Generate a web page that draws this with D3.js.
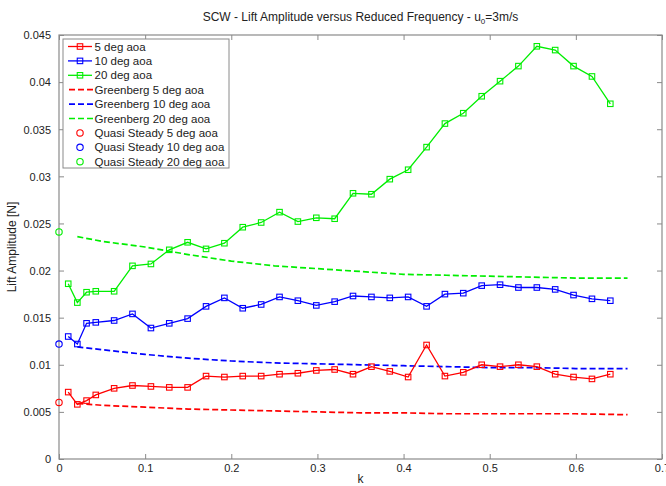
<!DOCTYPE html>
<html>
<head>
<meta charset="utf-8">
<script src="https://cdn.jsdelivr.net/npm/d3@7"></script>
<style>
  html, body { margin: 0; padding: 0; background: #fff; }
  svg { display: block; font-family: "Liberation Sans", Arial, Helvetica, sans-serif; }
</style>
</head>
<body>
<svg id="chart" width="666" height="486"></svg>
<script>
// Reduced frequency of each measured run
const kValues = [0.0107, 0.0213, 0.032, 0.0427, 0.064, 0.0853, 0.1067, 0.128, 0.1493, 0.1707,
  0.192, 0.2133, 0.2347, 0.256, 0.2773, 0.2987, 0.32, 0.3413, 0.3627, 0.384,
  0.4053, 0.4267, 0.448, 0.4693, 0.4907, 0.512, 0.5333, 0.5547, 0.576, 0.5973,
  0.6187, 0.64];

// Measured lift amplitude [N]
const lift5 = [0.0071, 0.0058, 0.0062, 0.0068, 0.0075, 0.0078, 0.0077, 0.0076, 0.0076, 0.0088,
  0.0087, 0.0088, 0.0088, 0.0090, 0.0091, 0.0094, 0.0095, 0.0090, 0.0098, 0.0093,
  0.0087, 0.0121, 0.0088, 0.0092, 0.0100, 0.0098, 0.0100, 0.0098, 0.0090, 0.0087,
  0.0085, 0.0090];
const lift10 = [0.0130, 0.0122, 0.0144, 0.0145, 0.0147, 0.0154, 0.0139, 0.0144, 0.0149, 0.0162,
  0.0171, 0.0160, 0.0164, 0.0172, 0.0168, 0.0163, 0.0167, 0.0173, 0.0172, 0.0171,
  0.0172, 0.0162, 0.0175, 0.0176, 0.0184, 0.0185, 0.0182, 0.0182, 0.0180, 0.0174,
  0.0170, 0.0168];
const lift20 = [0.0186, 0.0166, 0.0177, 0.0178, 0.0178, 0.0205, 0.0207, 0.0222, 0.0230, 0.0223,
  0.0229, 0.0246, 0.0251, 0.0262, 0.0252, 0.0256, 0.0255, 0.0282, 0.0281, 0.0297,
  0.0307, 0.0331, 0.0356, 0.0367, 0.0385, 0.0401, 0.0417, 0.0438, 0.0434, 0.0417,
  0.0406, 0.0377];

// Greenberg theory curves
const kTheory = [0.0213, 0.05, 0.1, 0.15, 0.2, 0.25, 0.3, 0.35, 0.4, 0.45, 0.5, 0.55, 0.6, 0.66];
const greenberg5 = [0.0059, 0.0057, 0.0055, 0.0053, 0.0052, 0.0051, 0.0050, 0.0049, 0.0049, 0.0048, 0.0048, 0.0048, 0.0048, 0.0047];
const greenberg10 = [0.0119, 0.0116, 0.0111, 0.0107, 0.0104, 0.0102, 0.0101, 0.0100, 0.0099, 0.0098, 0.0097, 0.0097, 0.0096, 0.0096];
const greenberg20 = [0.0236, 0.0231, 0.0225, 0.0217, 0.0210, 0.0205, 0.0202, 0.0199, 0.0196, 0.0195, 0.0194, 0.0193, 0.0192, 0.0192];

// Quasi-steady lift at k = 0
const quasiK = 0;
const quasi5 = 0.0060;
const quasi10 = 0.0122;
const quasi20 = 0.0241;

const xTicks = [0, 0.1, 0.2, 0.3, 0.4, 0.5, 0.6, 0.7];
const yTicks = [0, 0.005, 0.01, 0.015, 0.02, 0.025, 0.03, 0.035, 0.04, 0.045];

const colors = { red: "#ff0000", blue: "#0000ff", green: "#00ee00" };

const svg = d3.select("#chart");
const plotLeft = 59, plotRight = 662, plotTop = 35, plotBottom = 459;

const x = d3.scaleLinear().domain([0, 0.7]).range([plotLeft, plotRight]);
const y = d3.scaleLinear().domain([0, 0.045]).range([plotBottom, plotTop]);

// Title
const title = svg.append("text")
  .attr("x", (plotLeft + plotRight) / 2).attr("y", 21)
  .attr("text-anchor", "middle")
  .attr("font-size", 12).attr("fill", "#222");
title.append("tspan").text("SCW - Lift Amplitude versus Reduced Frequency - u");
title.append("tspan").attr("font-size", 8).attr("dy", 3).text("0");
title.append("tspan").attr("dy", -3).text("=3m/s");

// Axis frame
const axisColor = "#8a8a8a";
svg.append("rect")
  .attr("x", plotLeft).attr("y", plotTop)
  .attr("width", plotRight - plotLeft).attr("height", plotBottom - plotTop)
  .attr("fill", "none").attr("stroke", axisColor).attr("stroke-width", 1.2);

const fmt = d => (d === 0 ? "0" : d3.format("~g")(d));

// Bottom axis with inner ticks
const gx = svg.append("g").attr("transform", `translate(0,${plotBottom})`)
  .call(d3.axisBottom(x).tickValues(xTicks).tickSizeInner(-5).tickSizeOuter(0).tickPadding(9).tickFormat(fmt));
// Top mirror ticks
const gxt = svg.append("g").attr("transform", `translate(0,${plotTop})`)
  .call(d3.axisTop(x).tickValues(xTicks).tickSizeInner(-5).tickSizeOuter(0).tickFormat(""));
// Left axis
const gy = svg.append("g").attr("transform", `translate(${plotLeft},0)`)
  .call(d3.axisLeft(y).tickValues(yTicks).tickSizeInner(-5).tickSizeOuter(0).tickPadding(8).tickFormat(fmt));
// Right mirror ticks
const gyr = svg.append("g").attr("transform", `translate(${plotRight},0)`)
  .call(d3.axisRight(y).tickValues(yTicks).tickSizeInner(-5).tickSizeOuter(0).tickFormat(""));

[gx, gxt, gy, gyr].forEach(g => {
  g.select(".domain").remove();
  g.selectAll(".tick line").attr("stroke", axisColor);
  g.selectAll("text").attr("font-size", 11).attr("fill", "#222")
    .attr("font-family", "\"Liberation Sans\", Arial, sans-serif");
});
gy.selectAll(".tick text").attr("dy", "0.35em");
gx.selectAll(".tick text").attr("dy", "0.35em");

// Axis labels
svg.append("text").attr("x", (plotLeft + plotRight) / 2).attr("y", 483)
  .attr("text-anchor", "middle").attr("font-size", 12).attr("fill", "#222").text("k");
svg.append("text")
  .attr("transform", `translate(16,${(plotTop + plotBottom) / 2}) rotate(-90)`)
  .attr("text-anchor", "middle").attr("font-size", 12).attr("fill", "#222")
  .text("Lift Amplitude [N]");

const plot = svg.append("g");
const line = d3.line().x(d => x(d[0])).y(d => y(d[1]));

// Greenberg dashed curves
[[greenberg5, colors.red], [greenberg10, colors.blue], [greenberg20, colors.green]].forEach(([vals, c]) => {
  plot.append("path")
    .datum(kTheory.map((k, i) => [k, vals[i]]))
    .attr("d", line).attr("fill", "none")
    .attr("stroke", c).attr("stroke-width", 1.7).attr("stroke-dasharray", "6,3");
});

// Measured series with square markers
[[lift5, colors.red], [lift10, colors.blue], [lift20, colors.green]].forEach(([vals, c]) => {
  const pts = kValues.map((k, i) => [k, vals[i]]);
  plot.append("path").datum(pts).attr("d", line)
    .attr("fill", "none").attr("stroke", c).attr("stroke-width", 1.3);
  plot.selectAll(null).data(pts).enter().append("rect")
    .attr("x", d => x(d[0]) - 2.75).attr("y", d => y(d[1]) - 2.75)
    .attr("width", 5.5).attr("height", 5.5)
    .attr("fill", "none").attr("stroke", c).attr("stroke-width", 1.1);
});

// Quasi-steady circles
[[quasi5, colors.red], [quasi10, colors.blue], [quasi20, colors.green]].forEach(([v, c]) => {
  plot.append("circle").attr("cx", x(quasiK)).attr("cy", y(v)).attr("r", 3.2)
    .attr("fill", "none").attr("stroke", c).attr("stroke-width", 1.1);
});

// Legend
const legendItems = [
  { label: "5 deg aoa", color: colors.red, kind: "solid" },
  { label: "10 deg aoa", color: colors.blue, kind: "solid" },
  { label: "20 deg aoa", color: colors.green, kind: "solid" },
  { label: "Greenberg 5 deg aoa", color: colors.red, kind: "dash" },
  { label: "Greenberg 10 deg aoa", color: colors.blue, kind: "dash" },
  { label: "Greenberg 20 deg aoa", color: colors.green, kind: "dash" },
  { label: "Quasi Steady 5 deg aoa", color: colors.red, kind: "circle" },
  { label: "Quasi Steady 10 deg aoa", color: colors.blue, kind: "circle" },
  { label: "Quasi Steady 20 deg aoa", color: colors.green, kind: "circle" }
];
const lg = svg.append("g");
lg.append("rect").attr("x", 63).attr("y", 39).attr("width", 166).attr("height", 129)
  .attr("fill", "#fff").attr("stroke", axisColor).attr("stroke-width", 1);
legendItems.forEach((it, i) => {
  const cy = 46.5 + i * 14.4;
  const g = lg.append("g");
  if (it.kind === "solid") {
    g.append("line").attr("x1", 68).attr("x2", 92).attr("y1", cy).attr("y2", cy)
      .attr("stroke", it.color).attr("stroke-width", 1.3);
    g.append("rect").attr("x", 77.25).attr("y", cy - 2.75).attr("width", 5.5).attr("height", 5.5)
      .attr("fill", "none").attr("stroke", it.color).attr("stroke-width", 1.1);
  } else if (it.kind === "dash") {
    g.append("line").attr("x1", 69).attr("x2", 93).attr("y1", cy).attr("y2", cy)
      .attr("stroke", it.color).attr("stroke-width", 1.7).attr("stroke-dasharray", "6,3");
  } else {
    g.append("circle").attr("cx", 80).attr("cy", cy).attr("r", 3.2)
      .attr("fill", "none").attr("stroke", it.color).attr("stroke-width", 1.1);
  }
  g.append("text").attr("x", 94.5).attr("y", cy).attr("dy", "0.35em")
    .attr("font-size", 11.5).attr("fill", "#222").text(it.label);
});
</script>
</body>
</html>
